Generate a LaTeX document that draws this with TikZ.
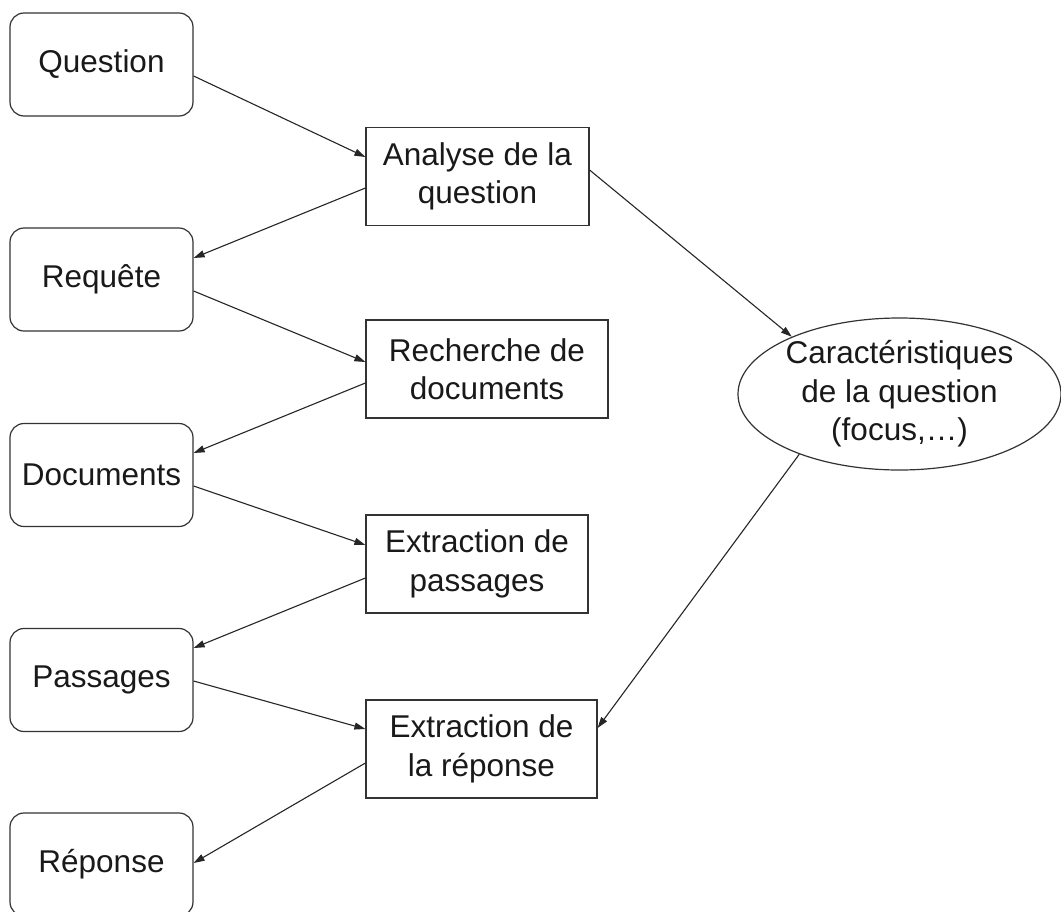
\documentclass[tikz,border=0pt]{standalone}
\usepackage{fontspec}
\setmainfont{Liberation Sans}
\usetikzlibrary{arrows.meta,shapes.geometric}

\begin{document}
\begin{tikzpicture}[x=1pt,y=-1pt,
  every node/.style={font=\fontsize{31.5}{38.5}\selectfont, text=black!90, align=center, inner sep=0pt},
  databox/.style={draw=black!80, line width=1.2pt, rounded corners=14pt,
    minimum width=183pt, minimum height=103pt},
  procbox/.style={draw=black!80, line width=1.2pt, minimum height=98pt},
  infobubble/.style={draw=black!80, line width=1.2pt, ellipse, minimum width=323pt, minimum height=152pt},
  flow/.style={draw=black!85, line width=1.1pt, -{Triangle[length=11pt,width=7pt]}}
]
\clip (0,0) rectangle (1061,911);
\fill[white] (0,0) rectangle (1061,911);

% data items (left column)
\node[databox] (q)   at (101.5,64.5) {Question};
\node[databox] (r)   at (101.5,279.5) {Requête};
\node[databox] (d)   at (101.5,475) {Documents};
\node[databox] (p)   at (101.5,680) {Passages};
\node[databox] (rep) at (101.5,864.5) {Réponse};

% processing steps (middle column)
\node[procbox, minimum width=223pt] (a)  at (477.5,176.5) {Analyse de la\\question};
\node[procbox, minimum width=242pt] (rd) at (487,369)    {Recherche de\\documents};
\node[procbox, minimum width=222pt] (ep) at (477,564)    {Extraction de\\passages};
\node[procbox, minimum width=231pt] (er) at (481.5,749)  {Extraction de\\la réponse};

% question features
\node[infobubble] (ell) at (899.5,394) {Caractéristiques\\de la question\\(focus,\dots)};

% main chain
\draw[flow] ([yshift=-11.5pt]q.east)  -- ([yshift=19.5pt]a.west);
\draw[flow] ([yshift=-11.5pt]a.west)  -- ([yshift=21.5pt]r.east);
\draw[flow] ([yshift=-11.5pt]r.east)  -- ([yshift=7pt]rd.west);
\draw[flow] ([yshift=-14pt]rd.west)   -- ([yshift=22pt]d.east);
\draw[flow] ([yshift=-11pt]d.east)    -- ([yshift=19pt]ep.west);
\draw[flow] ([yshift=-14pt]ep.west)   -- ([yshift=32pt]p.east);
\draw[flow] ([yshift=-1pt]p.east)     -- ([yshift=20pt]er.west);
\draw[flow] ([yshift=-14pt]er.west)   -- ([yshift=1.5pt]rep.east);

% features side branch
\draw[flow] ([yshift=6.5pt]a.east) -- (ell.152);
\draw[flow] (ell.211) -- ([yshift=21pt]er.east);
\end{tikzpicture}
\end{document}
